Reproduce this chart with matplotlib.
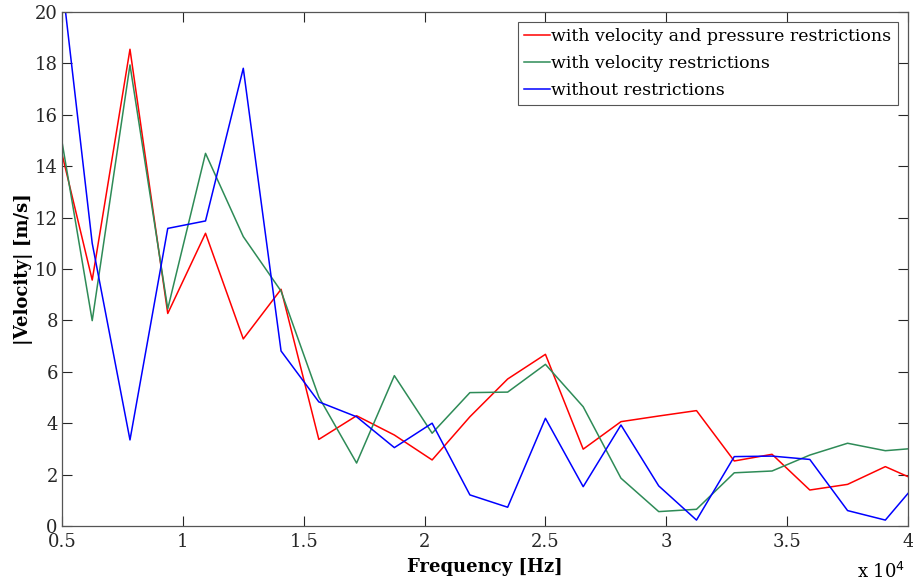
import numpy as np
import matplotlib
matplotlib.use("Agg")
import matplotlib.pyplot as plt

# frequency grid (Hz); first and last samples lie just outside the shown range
freq = [4687.5, 6250.0, 7812.5, 9375.0, 10937.5, 12500.0, 14062.5, 15625.0,
        17187.5, 18750.0, 20312.5, 21875.0, 23437.5, 25000.0, 26562.5, 28125.0,
        29687.5, 31250.0, 32812.5, 34375.0, 35937.5, 37500.0, 39062.5, 40625.0]

vel_press = [15.7, 9.57, 18.55, 8.27, 11.39, 7.28, 9.21, 3.37,
             4.29, 3.54, 2.57, 4.25, 5.72, 6.68, 2.99, 4.06,
             4.28, 4.49, 2.53, 2.79, 1.40, 1.62, 2.31, 1.66]
vel_only = [16.69, 7.99, 17.94, 8.45, 14.5, 11.26, 9.14, 5.02,
            2.45, 5.85, 3.61, 5.19, 5.21, 6.29, 4.64, 1.86,
            0.56, 0.65, 2.07, 2.14, 2.76, 3.22, 2.93, 3.05]
no_restr = [23.75, 11.0, 3.35, 11.58, 11.87, 17.81, 6.81, 4.83,
            4.25, 3.05, 4.0, 1.21, 0.73, 4.19, 1.53, 3.93,
            1.56, 0.23, 2.70, 2.72, 2.59, 0.60, 0.23, 1.96]

labels = ["with velocity and pressure restrictions",
          "with velocity restrictions",
          "without restrictions"]
colors = ["#ff0000", "#2e8b57", "#0000ff"]

plt.rcParams['font.family'] = ['DejaVu Serif']

fig = plt.figure(figsize=(9.13, 5.81), dpi=100)
ax = fig.add_axes([62 / 913, 1 - 526 / 581, 846 / 913, 514 / 581])

x = np.array(freq) / 1e4
for ys, lab, c in zip([vel_press, vel_only, no_restr], labels, colors):
    ax.plot(x, ys, color=c, lw=1.1, label=lab)

ax.set_xlim(0.5, 4.0)
ax.set_ylim(0, 20)
ax.set_xticks([0.5, 1, 1.5, 2, 2.5, 3, 3.5, 4])
ax.set_xticklabels(["0.5", "1", "1.5", "2", "2.5", "3", "3.5", "4"])
ax.set_yticks(range(0, 21, 2))
ax.tick_params(direction="in", length=7, width=0.8, top=True, right=True,
               labelsize=13, colors="#262626")
ax.tick_params(axis="x", pad=5)
ax.tick_params(axis="y", pad=3)
for s in ax.spines.values():
    s.set_color("#555555")
    s.set_linewidth(0.9)

ax.set_xlabel("Frequency [Hz]", fontsize=13, fontweight="bold", labelpad=5)
ax.set_ylabel("|Velocity| [m/s]", fontsize=13, fontweight="bold", labelpad=1)
fig.text(905 / 913, 1 - 572 / 581, r"x 10$^{4}$", fontsize=13, ha="right", va="center")

leg = ax.legend(loc="upper right", fontsize=12.5, handlelength=1.5, handletextpad=0.1,
                borderpad=0.35, labelspacing=0.55, fancybox=False, framealpha=1,
                borderaxespad=0.6)
leg.get_frame().set_edgecolor("#555555")
leg.get_frame().set_linewidth(0.8)

fig.savefig("out.png", dpi=100)
